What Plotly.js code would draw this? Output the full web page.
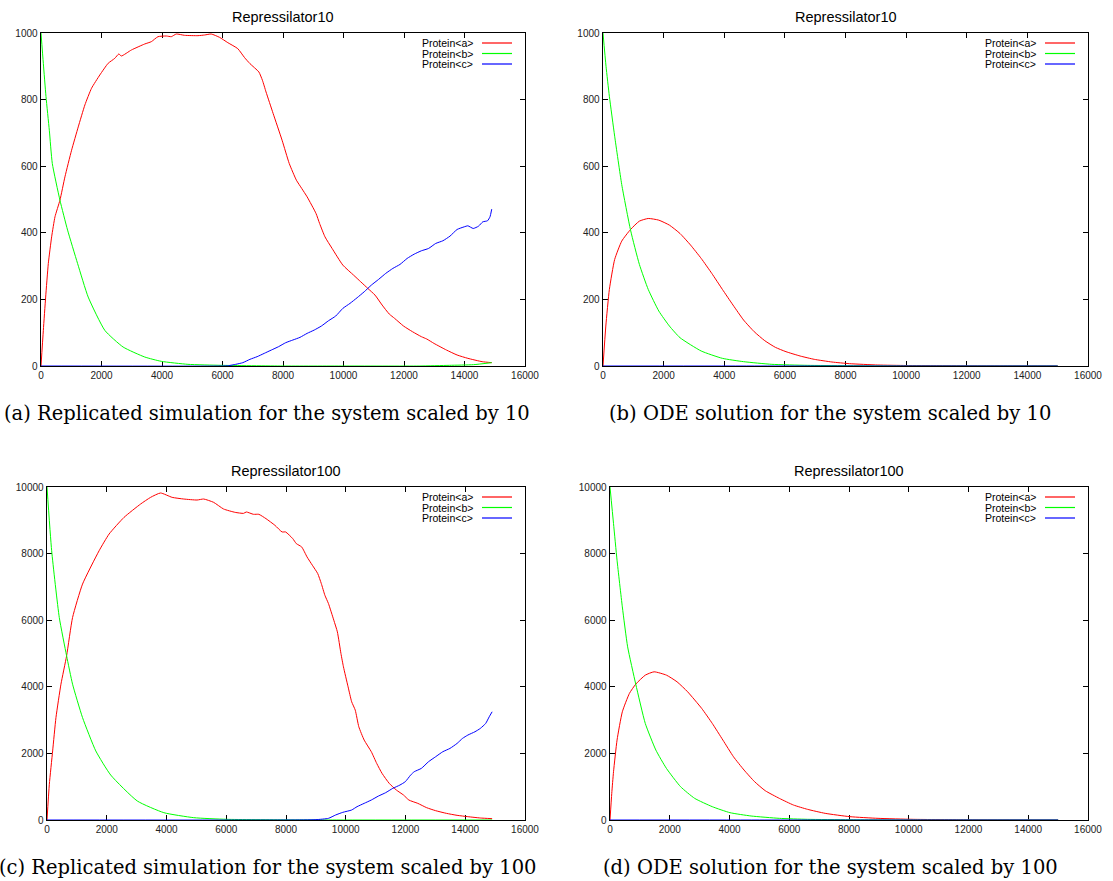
<!DOCTYPE html>
<html>
<head>
<meta charset="utf-8">
<script src="https://cdn.plot.ly/plotly-3.0.1.min.js"></script>
<style>html,body{margin:0;padding:0;background:#fff;}#chart{width:1113px;height:881px;}</style>
</head>
<body>
<div id="chart"></div>
<script>
// ---------- Data ----------
const seriesNames = ["Protein<a>", "Protein<b>", "Protein<c>"];
const panelTitles = ["Repressilator10", "Repressilator10", "Repressilator100", "Repressilator100"];
const captions = [
  "(a) Replicated simulation for the system scaled by 10",
  "(b) ODE solution for the system scaled by 10",
  "(c) Replicated simulation for the system scaled by 100",
  "(d) ODE solution for the system scaled by 100"
];
const xTicks = [0, 2000, 4000, 6000, 8000, 10000, 12000, 14000, 16000];
const yTicks10 = [0, 200, 400, 600, 800, 1000];
const yTicks100 = [0, 2000, 4000, 6000, 8000, 10000];

// (a) simulation, scale 10
const a_red_x = [0,77,154,242,352,462,626,791,1011,1231,1451,1670,1945,2220,2440,2571,2659,2989,3429,3648,3868,4143,4308,4473,4747,5187,5407,5626,5901,6176,6505,6730,6907,7202,7320,7439,7675,7970,8207,8443,8620,8797,9092,9210,9387,9623,9978,10332,10568,10804,11041,11277,11513,11690,11985,12280,12576,12753,12989,13402,13756,14111,14583,14900];
const a_red_y = [0,107,207,308,388,448,498,568,648,718,784,834,874,909,924,937,931,949,967,974,989,991,989,997,993,992,994,997,987,971,953,926,908,883,858,823,758,678,608,558,533,508,458,428,388,353,303,273,253,233,213,183,156,143,120,103,88,81,68,48,33,23,13,10];
const a_green_x = [0,77,165,275,374,626,879,1209,1560,2110,2714,3429,3978,4857,5956,8000,10000,12500,13500,14300,14900];
const a_green_y = [1000,909,809,708,608,498,408,308,207,107,57,27,14,5,2,0,0,0,2,4,10];
const a_blue_x = [0,6000,6198,6435,6671,6907,7144,7380,7616,7852,8089,8325,8561,8797,9033,9269,9505,9742,9978,10214,10450,10686,10922,11159,11395,11631,11867,12103,12339,12576,12812,13048,13284,13520,13756,13993,14111,14288,14465,14606,14760,14843,14900];
const a_blue_y = [0,0,1,5,10,20,28,38,48,58,70,78,86,98,108,120,136,150,173,188,205,223,243,260,278,293,305,323,336,346,353,368,376,390,410,418,421,413,420,433,436,448,471];

// (b) ODE, scale 10
const b_red_x = [0,93,210,385,618,909,1200,1492,1841,2191,2540,2890,3240,3590,3939,4289,4638,4988,5337,5687,6036,6503,6969,7552,8134,9066,10000,11000,12000,13000,14000,15000];
const b_red_y = [0,120,230,320,375,410,435,443,438,423,398,363,323,278,230,183,138,103,76,56,43,30,20,12,7,3,1.5,1,0.5,0.3,0.2,0.1];
const b_green_x = [0,100,210,385,618,909,1200,1492,1841,2191,2540,3240,3939,4638,5570,6736,8000,10000,15000];
const b_green_y = [1000,900,810,690,545,408,305,230,165,120,85,45,23,13,5,2,1,0,0];
const b_blue_x = [0,5000,10000,15000];
const b_blue_y = [0,0,0,0];

// (c) simulation, scale 100
const c_red_x = [0,78,189,300,467,656,856,1189,1744,2078,2578,3133,3467,3800,4189,4578,5022,5244,5578,5911,6300,6578,6672,6911,7090,7330,7629,7868,7987,8226,8345,8525,8704,8883,9062,9182,9301,9421,9600,9719,9839,9923,10078,10198,10318,10437,10617,10856,11036,11215,11455,11694,11933,12112,12411,12708,13009,13368,13727,14086,14504,14900];
const c_red_y = [0,1072,2074,3076,4078,4930,6082,7084,8086,8587,9088,9489,9689,9820,9689,9639,9609,9639,9539,9339,9238,9208,9250,9180,9180,9050,8850,8650,8650,8450,8300,8200,7900,7650,7400,7100,6750,6500,6000,5650,5000,4600,4000,3550,3300,2800,2400,2050,1700,1400,1100,900,750,600,500,370,280,200,140,100,60,40];
const c_green_x = [0,156,411,656,856,1189,1633,2133,3022,3911,4911,6022,8000,10000,14900];
const c_green_y = [10000,8086,6082,4930,4078,3076,2074,1350,571,220,70,20,5,0,0];
const c_blue_x = [0,8100,9000,9421,9660,9900,10198,10378,10617,10856,11096,11335,11574,11813,11993,12172,12292,12531,12770,13009,13248,13488,13727,13907,14086,14325,14504,14684,14803,14900];
const c_blue_y = [0,0,10,50,150,230,300,400,500,600,720,820,950,1050,1150,1350,1450,1550,1750,1900,2050,2150,2300,2450,2550,2650,2750,2900,3100,3250];

// (d) ODE, scale 100
const d_red_x = [0,59,118,236,413,649,862,1181,1476,1889,2244,2598,3070,3424,3779,4133,4487,4841,5196,5668,6140,6612,7202,8028,8972,10153,12000,15000];
const d_red_y = [0,800,1450,2400,3250,3800,4080,4350,4450,4350,4150,3850,3350,2900,2400,1900,1500,1150,880,650,450,320,200,100,50,20,5,0];
const d_green_x = [0,118,236,413,590,862,1181,1535,1889,2362,2834,3424,4015,4723,5668,6612,8000,10000,15000];
const d_green_y = [10000,8900,7800,6400,5200,4080,2900,2100,1550,1000,650,400,220,120,50,20,8,0,0];
const d_blue_x = [0,5000,10000,15000];
const d_blue_y = [0,0,0,0];

// ---------- Layout / styling ----------
const W = 1113, H = 881;
const colors = ["#ff0000", "#00ff00", "#0000ff"];
const px = v => v / W;
const py = v => 1 - v / H;

// plot-area pixel boxes [left, right, top, bottom]
const boxes = [
  [41, 525, 33, 366],
  [603, 1088, 33, 366],
  [47, 525, 487, 820],
  [610, 1088, 487, 820]
];
const panelData = [
  [[a_red_x, a_red_y], [a_green_x, a_green_y], [a_blue_x, a_blue_y]],
  [[b_red_x, b_red_y], [b_green_x, b_green_y], [b_blue_x, b_blue_y]],
  [[c_red_x, c_red_y], [c_green_x, c_green_y], [c_blue_x, c_blue_y]],
  [[d_red_x, d_red_y], [d_green_x, d_green_y], [d_blue_x, d_blue_y]]
];
const yTickSets = [yTicks10, yTicks10, yTicks100, yTicks100];

const esc = s => s.replace(/</g, "&lt;").replace(/>/g, "&gt;");
const traces = [];
const layout = {
  width: W, height: H,
  margin: {l: 0, r: 0, t: 0, b: 0},
  paper_bgcolor: "#fff", plot_bgcolor: "#fff",
  showlegend: false,
  annotations: [], shapes: []
};
const tickFont = {family: "Liberation Sans, Arial, sans-serif", size: 10, color: "#222"};

boxes.forEach((b, i) => {
  const n = i === 0 ? "" : String(i + 1);
  const xa = "x" + n, ya = "y" + n;
  panelData[i].forEach((s, k) => {
    traces.push({
      type: "scatter", mode: "lines", x: s[0], y: s[1],
      xaxis: xa, yaxis: ya, name: seriesNames[k],
      line: {color: colors[k], width: 1, shape: "spline", smoothing: 0.5}, hoverinfo: "skip"
    });
  });
  const yt = yTickSets[i];
  const common = {
    ticks: "inside", ticklen: 5, tickwidth: 1, tickcolor: "#000",
    mirror: "allticks", showline: true, linecolor: "#000", linewidth: 1.4,
    showgrid: false, zeroline: false, tickfont: tickFont, fixedrange: true,
    layer: "below traces"
  };
  layout["xaxis" + n] = Object.assign({}, common, {
    domain: [px(b[0]), px(b[1])], anchor: ya,
    range: [xTicks[0], xTicks[xTicks.length - 1]],
    tickvals: xTicks, ticktext: xTicks.map(String)
  });
  layout["yaxis" + n] = Object.assign({}, common, {
    domain: [py(b[3]), py(b[2])], anchor: xa,
    range: [yt[0], yt[yt.length - 1]],
    tickvals: yt, ticktext: yt.map(String)
  });
  // panel title
  layout.annotations.push({
    xref: "paper", yref: "paper", x: px((b[0] + b[1]) / 2), y: py(b[2] - 16),
    text: panelTitles[i], showarrow: false, xanchor: "center", yanchor: "middle",
    font: {family: "Liberation Sans, Arial, sans-serif", size: 14.5, color: "#000"}
  });
  // caption
  const capCx = i % 2 === 0 ? 267 : 830;
  layout.annotations.push({
    xref: "paper", yref: "paper", x: px(capCx), y: py(b[3] + 47),
    text: captions[i], showarrow: false, xanchor: "center", yanchor: "middle",
    font: {family: "DejaVu Serif, serif", size: 19.5, color: "#000"}
  });
  // key (gnuplot style: text then line sample)
  const rowOff = [10, 20.5, 31];
  seriesNames.forEach((nm, k) => {
    const yy = b[2] + rowOff[k];
    layout.annotations.push({
      xref: "paper", yref: "paper", x: px(b[1] - 50), y: py(yy),
      text: esc(nm), showarrow: false, xanchor: "right", yanchor: "middle",
      font: {family: "Liberation Sans, Arial, sans-serif", size: 10.5, color: "#000"}
    });
    layout.shapes.push({
      type: "line", xref: "paper", yref: "paper",
      x0: px(b[1] - 43), x1: px(b[1] - 13), y0: py(yy), y1: py(yy),
      line: {color: colors[k], width: 1.2}
    });
  });
});

Plotly.newPlot("chart", traces, layout, {staticPlot: true, displayModeBar: false});
</script>
</body>
</html>
